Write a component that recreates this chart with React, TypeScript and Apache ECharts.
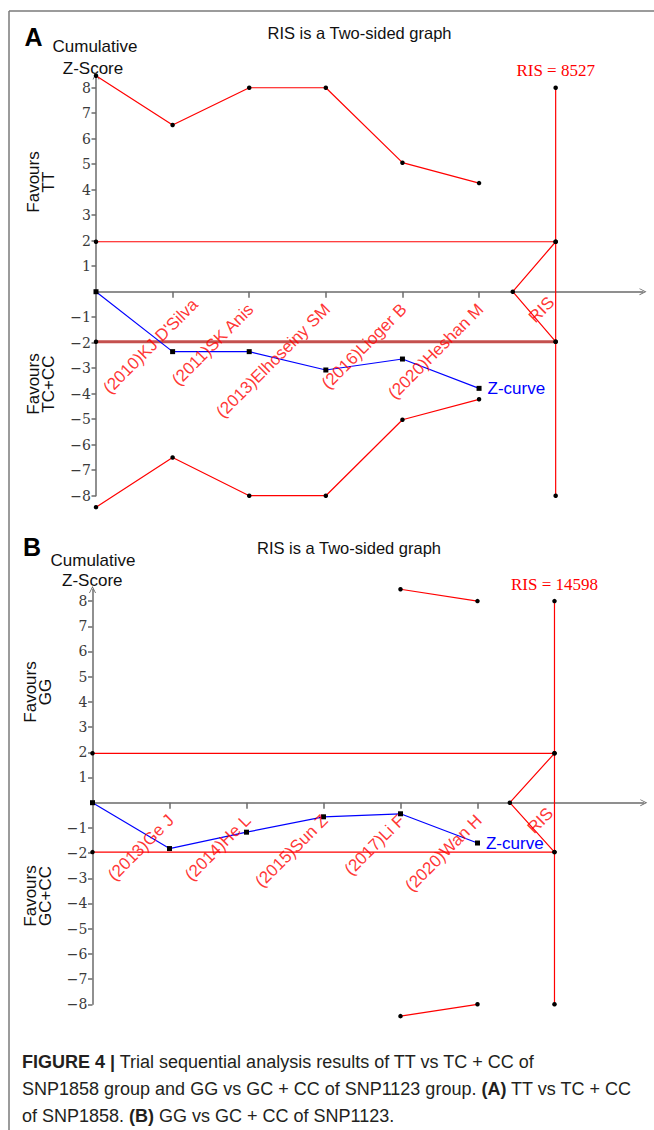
import React, { useEffect, useRef } from 'react';
import * as echarts from 'echarts';

// ---------- data ----------
const STUDIES_A = ["(2010)KJ D'Silva", '(2011)SK Anis', '(2013)Elhoseiny SM', '(2016)Lioger B', '(2020)Heshan M', 'RIS'];
const Z_CURVE_A = [0, -2.35, -2.35, -3.07, -2.64, -3.79];
const UPPER_A: (number | null)[] = [8.47, 6.54, 8, 8, 5.06, 4.26];
const LOWER_A: (number | null)[] = [-8.45, -6.5, -8, -8, -5.02, -4.22];
const RIS_VALUE_A = 8527;
const FUTILITY_X_A = 5.44;

const STUDIES_B = ['(2013)Ge J', '(2014)He L', '(2015)Sun Z', '(2017)Li F', '(2020)Wan H', 'RIS'];
const Z_CURVE_B = [0, -1.82, -1.17, -0.56, -0.44, -1.6];
const UPPER_B: (number | null)[] = [null, null, null, null, 8.47, 8.0];
const LOWER_B: (number | null)[] = [null, null, null, null, -8.47, -8.0];
const RIS_VALUE_B = 14598;
const FUTILITY_X_B = 5.42;

const RIS_X = 6;
const Z_CRIT = 1.96;
const RIS_BOUND = 8;
const Y_TICKS = [-8, -7, -6, -5, -4, -3, -2, -1, 1, 2, 3, 4, 5, 6, 7, 8];
const X_TICKS = [1, 2, 3, 4, 5];

const CAPTION = [
  '{b|FIGURE 4 |} Trial sequential analysis results of TT vs TC + CC of',
  'SNP1858 group and GG vs GC + CC of SNP1123 group. {b|(A)} TT vs TC + CC',
  'of SNP1858. {b|(B)} GG vs GC + CC of SNP1123.',
];

// ---------- styles ----------
const SANS = "'Liberation Sans', Arial, Helvetica, sans-serif";
const SERIF = "'Liberation Serif', 'Times New Roman', serif";
const TICK_SERIF = "'DejaVu Serif', 'Liberation Serif', serif";
const RED = '#ff0000';
const BLUE = '#0000ff';
const AXIS_COLOR = '#6b6b6b';
const CHEVRON = 'path://M0,10L5,0L10,10L8.7,10L5,2.6L1.3,10Z';

type Panel = {
  studies: string[];
  z: number[];
  upper: (number | null)[];
  lower: (number | null)[];
  ris: number;
  futX: number;
  grid: { left: number; top: number; width: number; height: number };
  xMax: number;
  yMax: number;
  lowerCrit: { color: string; width: number };
  firstLabelShift: [number, number];
};

const PANELS: Panel[] = [
  {
    studies: STUDIES_A, z: Z_CURVE_A, upper: UPPER_A, lower: LOWER_A, ris: RIS_VALUE_A, futX: FUTILITY_X_A,
    grid: { left: 96, top: 76, width: 547, height: 419.7 }, xMax: 7.14, yMax: 8.46,
    lowerCrit: { color: '#c4504e', width: 3 }, firstLabelShift: [21, -5],
  },
  {
    studies: STUDIES_B, z: Z_CURVE_B, upper: UPPER_B, lower: LOWER_B, ris: RIS_VALUE_B, futX: FUTILITY_X_B,
    grid: { left: 92.5, top: 589.5, width: 551.3, height: 414.8 }, xMax: 7.16, yMax: 8.46,
    lowerCrit: { color: RED, width: 1.2 }, firstLabelShift: [0, 0],
  },
];

function pts(arr: (number | null)[]) {
  const out: number[][] = [];
  arr.forEach((v, i) => { if (v != null) out.push([i, v]); });
  return out;
}

function panelSeries(gi: number, p: Panel) {
  const ax = { xAxisIndex: gi, yAxisIndex: gi, silent: true, clip: false, animation: false, emphasis: { disabled: true } };
  const dot = { symbol: 'circle', symbolSize: 4.5, showSymbol: true, itemStyle: { color: '#000' } };
  const red = { color: RED, width: 1.2 };
  return [
    { type: 'line', ...ax, ...dot, data: pts(p.upper), lineStyle: red, z: 3 },
    { type: 'line', ...ax, ...dot, data: pts(p.lower), lineStyle: red, z: 3 },
    { type: 'line', ...ax, ...dot, data: [[0, Z_CRIT], [RIS_X, Z_CRIT]], lineStyle: red, z: 3 },
    { type: 'line', ...ax, ...dot, data: [[0, -Z_CRIT], [RIS_X, -Z_CRIT]], lineStyle: p.lowerCrit, z: 3 },
    { type: 'line', ...ax, ...dot, data: [[RIS_X, Z_CRIT], [p.futX, 0], [RIS_X, -Z_CRIT]], lineStyle: red, z: 3 },
    {
      type: 'line', ...ax, ...dot, lineStyle: red, z: 3,
      data: [
        {
          value: [RIS_X, RIS_BOUND],
          label: {
            show: true, position: 'top', distance: 6, formatter: `RIS = ${p.ris}`,
            color: RED, fontFamily: SERIF, fontSize: 17,
          },
        },
        [RIS_X, -RIS_BOUND],
      ],
    },
    {
      type: 'line', ...ax, symbol: 'rect', symbolSize: 5, showSymbol: true, itemStyle: { color: '#000' },
      lineStyle: { color: BLUE, width: 1.2 }, z: 5,
      data: p.z.map((v, i) => i === p.z.length - 1
        ? {
          value: [i, v],
          label: { show: true, position: 'right', distance: 6, formatter: 'Z-curve', color: BLUE, fontFamily: SANS, fontSize: 17 },
        }
        : [i, v]),
    },
    {
      type: 'scatter', ...ax, symbol: 'circle', symbolSize: 2, itemStyle: { color: 'rgba(0,0,0,0)' }, z: 6,
      data: p.studies.map((name, i) => {
        const isRis = i === p.studies.length - 1;
        let off = isRis ? [-4, 8] : [1.5, 15];
        if (i === 0) off = [off[0] + p.firstLabelShift[0], off[1] + p.firstLabelShift[1]];
        return {
          name,
          value: [i + 1, 0],
          label: { position: [1 + off[0], 1 + off[1]] },
        };
      }),
      label: {
        show: true, formatter: '{t|{b}}', rotate: 45, align: 'right', verticalAlign: 'middle',
        color: RED, fontFamily: SANS, fontSize: 17,
        rich: { t: { color: RED, fontFamily: SANS, fontSize: 17, align: 'right' } },
      },
    },
  ];
}

function txt(x: number, y: number, text: string, o: any = {}) {
  return {
    type: 'text', x, y, rotation: o.rotation || 0, silent: true,
    style: {
      text, fill: o.fill || '#111', fontFamily: o.fontFamily || SANS, fontSize: o.fontSize || 17,
      fontWeight: o.fontWeight || 'normal', lineHeight: o.lineHeight,
      align: o.align || 'center', textAlign: o.align || 'center',
      verticalAlign: 'middle', textVerticalAlign: 'middle', rich: o.rich,
    },
  };
}

function buildOption() {
  const grids = PANELS.map((p) => ({ ...p.grid, containLabel: false, outerBoundsMode: 'none' }));
  const xAxes = PANELS.map((p, gi) => ({
    type: 'value', gridIndex: gi, min: 0, max: p.xMax,
    axisLine: { show: true, onZero: true, symbol: ['none', CHEVRON], symbolSize: [9, 7], lineStyle: { color: AXIS_COLOR, width: 1.5 } },
    axisTick: { show: true, customValues: X_TICKS, length: 6, lineStyle: { color: AXIS_COLOR, width: 1.5 } },
    axisLabel: { show: false },
    splitLine: { show: false },
  }));
  const yAxes = PANELS.map((p, gi) => ({
    type: 'value', gridIndex: gi, min: -RIS_BOUND, max: p.yMax,
    axisLine: { show: true, onZero: false, symbol: ['none', CHEVRON], symbolSize: [10, 7], lineStyle: { color: AXIS_COLOR, width: 1.5 } },
    axisTick: { show: true, customValues: Y_TICKS, length: 4.5, lineStyle: { color: AXIS_COLOR, width: 1.5 } },
    axisLabel: {
      show: true, customValues: Y_TICKS, margin: 5, color: '#3a3a3a', fontFamily: TICK_SERIF, fontSize: 14,
      formatter: (v: number) => '{n|' + (v < 0 ? '\u2212' + Math.abs(v) : String(v)) + '}',
      rich: { n: { color: '#3a3a3a', fontFamily: TICK_SERIF, fontSize: 14 } },
    },
    splitLine: { show: false },
  }));

  const graphic: any[] = [
    { type: 'line', silent: true, shape: { x1: 9, y1: 11, x2: 654, y2: 11 }, style: { stroke: '#7a7a7a', lineWidth: 1.5 } },
    { type: 'line', silent: true, shape: { x1: 9, y1: 11, x2: 9, y2: 1130 }, style: { stroke: '#7a7a7a', lineWidth: 1.5 } },
    // Panel A
    txt(33.5, 37, 'A', { fontSize: 25, fontWeight: 'bold', fill: '#000' }),
    txt(95, 46, 'Cumulative'),
    txt(93, 68, 'Z-Score'),
    txt(359.5, 33, 'RIS is a Two-sided graph', { fontSize: 16.5 }),
    txt(41, 182, 'Favours\nTT', { rotation: Math.PI / 2, lineHeight: 15 }),
    txt(41, 384, 'Favours\nTC+CC', { rotation: Math.PI / 2, lineHeight: 15 }),
    // Panel B
    txt(32, 546.5, 'B', { fontSize: 25, fontWeight: 'bold', fill: '#000' }),
    txt(93, 560.7, 'Cumulative'),
    txt(92.3, 580, 'Z-Score'),
    txt(349, 548, 'RIS is a Two-sided graph', { fontSize: 16.5 }),
    txt(38, 692, 'Favours\nGG', { rotation: Math.PI / 2, lineHeight: 15 }),
    txt(38, 896, 'Favours\nGC+CC', { rotation: Math.PI / 2, lineHeight: 15 }),
  ];
  CAPTION.forEach((line, i) => {
    graphic.push(txt(22, 1062 + i * 27, line, {
      align: 'left', fontSize: 18, fill: '#231f20',
      rich: { b: { fontWeight: 'bold', fontSize: 18, fontFamily: SANS, fill: '#231f20' } },
    }));
  });

  return {
    animation: false,
    backgroundColor: '#ffffff',
    textStyle: { fontFamily: SANS },
    grid: grids,
    xAxis: xAxes,
    yAxis: yAxes,
    series: PANELS.flatMap((p, gi) => panelSeries(gi, p)),
    graphic,
  };
}

export default function App() {
  const ref = useRef<HTMLDivElement>(null);
  useEffect(() => {
    const chart = echarts.init(ref.current!, null, { renderer: 'svg' });
    chart.setOption(buildOption() as any);
    return () => chart.dispose();
  }, []);
  return (
    <div
      ref={ref}
      style={{ position: 'absolute', left: 0, top: 0, width: 654, height: 1130, background: '#fff' }}
    />
  );
}
